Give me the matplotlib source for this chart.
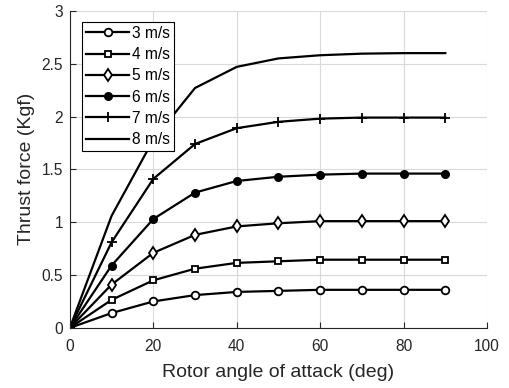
import numpy as np
import matplotlib.pyplot as plt

plt.rcParams['font.family'] = ['Liberation Sans', 'DejaVu Sans']

# angle of attack (deg)
aoa = [0, 10, 20, 30, 40, 50, 60, 70, 80, 90]

# thrust (Kgf) for each wind speed
t3 = [0, 0.14, 0.25, 0.31, 0.34, 0.35, 0.36, 0.36, 0.36, 0.36]
t4 = [0, 0.265, 0.45, 0.56, 0.615, 0.63, 0.645, 0.645, 0.645, 0.645]
t5 = [0, 0.41, 0.71, 0.88, 0.96, 0.99, 1.01, 1.01, 1.01, 1.01]
t6 = [0, 0.59, 1.03, 1.28, 1.39, 1.43, 1.45, 1.46, 1.46, 1.46]
t7 = [0, 0.81, 1.41, 1.74, 1.89, 1.95, 1.98, 1.99, 1.99, 1.99]
t8 = [0, 1.06, 1.78, 2.27, 2.47, 2.55, 2.58, 2.595, 2.60, 2.60]

labels = ['3 m/s', '4 m/s', '5 m/s', '6 m/s', '7 m/s', '8 m/s']

fig = plt.figure(figsize=(5.1, 3.88), dpi=100)
ax = fig.add_axes([0.137, 0.155, 0.818, 0.817])

ax.plot(aoa, t3, 'k-o', mfc='white', ms=5.5, mew=1.3, lw=1.6, label=labels[0])
ax.plot(aoa, t4, 'k-s', mfc='white', ms=5, mew=1.3, lw=1.6, label=labels[1])
ax.plot(aoa, t5, 'k-d', mfc='white', ms=6, mew=1.3, lw=1.6, label=labels[2])
ax.plot(aoa, t6, 'k-o', mfc='k', ms=5.5, lw=1.6, label=labels[3])
ax.plot(aoa, t7, 'k-+', ms=6.5, mew=1.3, lw=1.6, label=labels[4])
ax.plot(aoa, t8, 'k-', lw=1.6, label=labels[5])

ax.set_xlim(0, 100)
ax.set_ylim(0, 3)
ax.set_xticks([0, 20, 40, 60, 80, 100])
ax.set_yticks([0, 0.5, 1, 1.5, 2, 2.5, 3])
ax.set_yticklabels(['0', '0.5', '1', '1.5', '2', '2.5', '3'])
ax.grid(True, color='#dadada', lw=0.8)
ax.set_axisbelow(True)
for s in ['top', 'right']:
    ax.spines[s].set_visible(False)
for s in ['left', 'bottom']:
    ax.spines[s].set_color('#262626')
ax.tick_params(direction='in', labelsize=11.2, colors='#262626', length=4)
ax.tick_params(axis='x', pad=8)
ax.tick_params(axis='y', pad=5)

ax.set_xlabel('Rotor angle of attack (deg)', fontsize=14, color='#262626', labelpad=7)
ax.set_ylabel('Thrust force (Kgf)', fontsize=14, color='#262626', labelpad=4.5)

leg = ax.legend(loc='upper left', fontsize=11.2, fancybox=False, framealpha=1,
                edgecolor='k', handlelength=2.8, labelspacing=0.4,
                borderpad=0.25, handletextpad=0.15, borderaxespad=0,
                bbox_to_anchor=(0.029, 0.965))
leg.get_frame().set_linewidth(0.8)

plt.savefig('out.png', dpi=100)
